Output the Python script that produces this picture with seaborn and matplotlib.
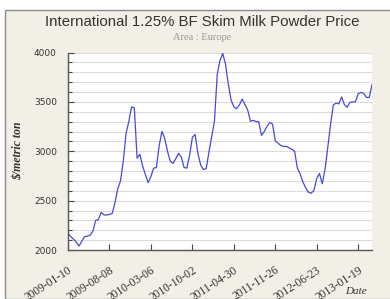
import pandas as pd
import matplotlib.pyplot as plt
import matplotlib.dates as mdates
from matplotlib.patches import Rectangle
from matplotlib.ticker import MultipleLocator
import seaborn as sns

# Chart style
sns.set_theme(style="white")

# Data: biweekly prices ($/metric ton)
start_date = "2009-01-10"
prices = [
    2170, 2135, 2110, 2080, 2040, 2090, 2135, 2140, 2150, 2190,
    2298, 2310, 2380, 2355, 2355, 2360, 2370, 2480, 2620, 2700,
    2900, 3180, 3300, 3448, 3440, 2930, 2970, 2850, 2765, 2683,
    2744, 2829, 2835, 3060, 3200, 3130, 3000, 2900, 2878, 2925,
    2980, 2940, 2836, 2829, 2960, 3140, 3170, 2980, 2860, 2815,
    2825, 2990, 3150, 3305, 3780, 3920, 3990, 3880, 3680, 3520,
    3450, 3432, 3468, 3528, 3475, 3420, 3305, 3312, 3302, 3300,
    3160, 3200, 3252, 3290, 3275, 3105, 3082, 3058, 3049, 3049,
    3035, 3020, 3000, 2830, 2770, 2690, 2630, 2585, 2575, 2605,
    2725, 2775, 2670, 2815, 3040, 3270, 3468, 3488, 3480, 3550,
    3472, 3445, 3495, 3499, 3500, 3582, 3597, 3585, 3545, 3545,
    3675,
]
dates = pd.date_range(start_date, periods=len(prices), freq="14D")
df = pd.DataFrame({"Date": dates, "Price": prices})

tick_dates = dates[::15]

# ==========================================================
# FIGURE
# ==========================================================

fig = plt.figure(figsize=(3.9, 2.99), dpi=100)
fig.patch.set_facecolor("white")
fig.patches.append(Rectangle((5 / 390, 0), 1, 1 - 10 / 299, transform=fig.transFigure,
                             facecolor="#f1efe6", edgecolor="#8a8a8a", linewidth=1.0,
                             zorder=-10))

ax = fig.add_axes([68 / 390, 49 / 299, 304 / 390, 197.5 / 299])
ax.set_facecolor("white")

sns.lineplot(data=df, x="Date", y="Price", ax=ax, color="#4848d8", linewidth=0.9)

ax.set_xlim(dates[0], dates[-1])
ax.set_ylim(2000, 4000)

# y axis
ax.yaxis.set_major_locator(MultipleLocator(500))
ax.yaxis.set_minor_locator(MultipleLocator(100))
ax.grid(axis="y", which="both", color="#dcdcdc", linewidth=0.8)
ax.tick_params(axis="y", which="major", direction="in", length=4, width=0.8,
               color="#444444", labelsize=6.5, labelcolor="#333333", pad=8, left=True)
ax.tick_params(axis="y", which="minor", direction="in", length=3, width=0.8,
               color="#444444", left=True)

# x axis
ax.set_xticks(tick_dates)
ax.xaxis.set_major_formatter(mdates.DateFormatter("%Y-%m-%d"))
ax.tick_params(axis="x", direction="in", length=4, width=0.8, color="#444444",
               labelsize=8.3, labelcolor="#333333", pad=10, bottom=True)
for lbl in ax.get_xticklabels():
    lbl.set_rotation(33)
    lbl.set_ha("right")
    lbl.set_rotation_mode("anchor")
    lbl.set_family("Liberation Serif")

for side in ["top", "right"]:
    ax.spines[side].set_visible(False)
for side in ["left", "bottom"]:
    ax.spines[side].set_color("#555555")
    ax.spines[side].set_linewidth(1.0)

ax.set_xlabel("")
ax.set_ylabel("")

# texts
fig.text(202 / 390, 1 - 21.5 / 299, "International 1.25% BF Skim Milk Powder Price",
         ha="center", va="center", fontsize=10.8, color="#333333",
         family="Liberation Sans")
fig.text(202 / 390, 1 - 37 / 299, "Area : Europe", ha="center", va="center",
         fontsize=7.5, color="#999999", family="Liberation Serif")
fig.text(18 / 390, 1 - 151 / 299, "$/metric ton", ha="center", va="center",
         rotation=90, fontsize=8.5, color="#333333", family="Liberation Serif",
         style="italic", weight="bold")
fig.text(356 / 390, 1 - 292 / 299, "Date", ha="center", va="center",
         fontsize=8, color="#333333", family="Liberation Serif", style="italic")

plt.savefig("out.png", dpi=100)
